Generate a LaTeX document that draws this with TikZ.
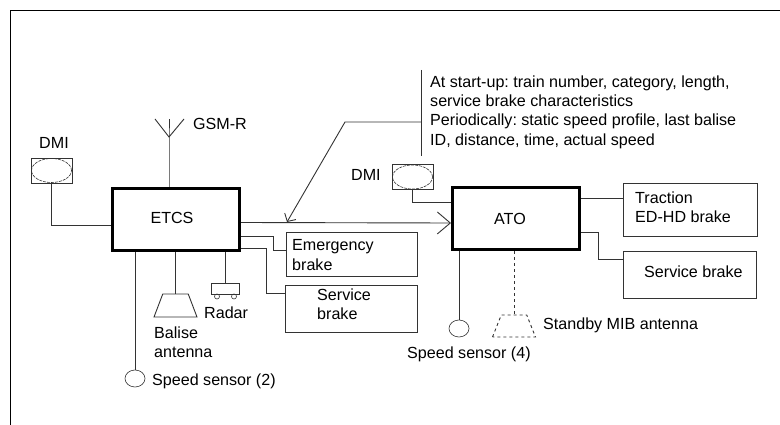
\documentclass[tikz,border=0pt]{standalone}
\usepackage{fontspec}
\setmainfont{Liberation Sans}
\usetikzlibrary{arrows.meta, shapes.geometric}

\tikzset{
	line/.style={draw=black!80, line width=0.9pt},
	unit/.style={draw=black, line width=3pt, minimum width=127pt, minimum height=62pt, inner sep=0pt},
	brake/.style={line, inner sep=0pt},
	label/.style={inner sep=0pt, anchor=west, align=left},
	screen/.style={line, minimum width=41pt, minimum height=25pt, inner sep=0pt},
	lens/.style={draw=black!80, dashed, dash pattern=on 3pt off 1pt, line width=0.6pt, shape=ellipse, minimum width=40pt, minimum height=24pt, inner sep=0pt},
	sensor/.style={line, line width=0.6pt, shape=ellipse, minimum width=20pt, minimum height=17pt, inner sep=0pt},
	antenna/.style={line, shape=trapezium, trapezium stretches=true, trapezium left angle=72, trapezium right angle=72, minimum width=43pt, minimum height=23pt, inner sep=0pt},
	wheel/.style={line, line width=0.6pt, shape=circle, minimum size=5pt, inner sep=0pt},
}

\begin{document}
\frenchspacing
\begin{tikzpicture}[x=1pt, y=-1pt, font=\fontsize{16.1}{19.3}\selectfont]
	\useasboundingbox (0, 0) rectangle (780, 425);
	\draw[line width=1pt] (10, 425) -- (10, 11) -- (780, 11);

	% main units
	\node[unit] (etcs) at (176, 219.5) {\hspace{-8pt}\raisebox{3pt}{ETCS}};
	\node[unit] (ato) at (516, 218.5) {\hspace{-12pt}ATO};

	% left side
	\node[screen] (dmileft) at (51.5, 170.5) {};
	\node[lens] (lensleft) at (dmileft.center) {};
	\node[label, anchor=center] (dmilefttext) at (54, 143) {DMI};
	\draw[line] (dmileft.south) |- ([yshift=-5.5pt]etcs.west);

	% GSM-R aerial
	\coordinate (aerial) at (169, 137);
	\coordinate (aerialtop) at (169, 119);
	\coordinate (aerialleft) at (155, 119);
	\coordinate (aerialright) at (184, 119);
	\node[label] (gsmtext) at (193, 124) {GSM-R};
	\draw[line] (etcs.north -| aerial) -- (aerial) -- (aerialtop);
	\draw[line] (aerialleft) -- (aerial) -- (aerialright);

	% under ETCS
	\node[sensor] (sensorleft) at (135, 378.5) {};
	\node[label] (sensorlefttext) at (152, 381) {Speed sensor (2)};
	\draw[line] (etcs.south -| sensorleft.north) -- (sensorleft.north);
	\node[antenna] (balise) at (175.5, 305.5) {\phantom{x}};
	\node[label] (balisetext) at (154, 342.5) {Balise\\antenna};
	\draw[line] (etcs.south -| balise.north) -- (balise.north);
	\node[line, minimum width=28pt, minimum height=11pt, inner sep=0pt] (radar) at (225, 288.5) {};
	\node[wheel] (wheelleft) at (217, 296.5) {};
	\node[wheel] (wheelright) at (234, 296.5) {};
	\node[label] (radartext) at (204, 313) {Radar};
	\draw[line] (etcs.south -| radar.north) -- (radar.north);

	% ETCS brakes
	\node[brake, minimum width=131pt, minimum height=44pt] (emergency) at (351.5, 254) {};
	\node[label] (emergencytext) at (292, 255) {Emergency\\brake};
	\node[brake, minimum width=132pt, minimum height=47pt] (serviceleft) at (351, 308.5) {};
	\node[label] (servicelefttext) at (317, 304.5) {Service\\brake};
	\draw[line] ([yshift=-16.5pt]etcs.east) -| (273, 250) -- ([yshift=4pt]emergency.west);
	\draw[line] ([yshift=-28.5pt]etcs.east) -| (266, 293) -- ([yshift=15.5pt]serviceleft.west);

	% data link
	\coordinate (bartop) at (421, 70);
	\coordinate (barbottom) at (421, 156);
	\coordinate (barmid) at (421, 122);
	\coordinate (bend) at (345, 122);
	\coordinate (datatip) at (287, 222);
	\draw[line] (bartop) -- (barbottom);
	\node[label] (datatext) at (430, 112) {At start-up: train number, category, length,\\service brake characteristics\\Periodically: static speed profile, last balise\\ID, distance, time, actual speed};
	\draw[line, -{Straight Barb[length=6pt, width=13pt]}] (barmid) -- (bend) -- (datatip);
	\draw[line, -{Straight Barb[length=13pt, width=22pt]}] ([yshift=-3pt]etcs.east) -- ([yshift=-4.5pt]ato.west);

	% right side
	\node[screen] (dmiright) at (412.5, 177) {};
	\node[lens] (lensright) at (dmiright.center) {};
	\node[label] (dmirighttext) at (351, 175) {DMI};
	\draw[line] (dmiright.south) |- ([yshift=16.5pt]ato.west);
	\node[brake, minimum width=134pt, minimum height=53pt] (traction) at (690, 209.5) {};
	\node[label] (tractiontext) at (635, 207.5) {Traction\\ED-HD brake};
	\node[brake, minimum width=133pt, minimum height=47pt] (serviceright) at (689.5, 274.5) {};
	\node[label] (servicerighttext) at (644, 272) {Service brake};
	\draw[line] ([yshift=20.5pt]ato.east) -- ([yshift=20.5pt]ato.east -| traction.west);
	\draw[line] ([yshift=-13.5pt]ato.east) -| (598, 259) -- ([yshift=15.5pt]serviceright.west);

	% under ATO
	\node[sensor] (sensorright) at (459, 328.5) {};
	\node[label] (sensorrighttext) at (407, 354) {Speed sensor (4)};
	\draw[line] (ato.south -| sensorright.north) -- (sensorright.north);
	\node[antenna, dashed, minimum height=22pt] (standby) at (514, 326) {\phantom{x}};
	\node[label] (standbytext) at (543, 325) {Standby MIB antenna};
	\draw[line, dashed] (ato.south -| standby.north) -- (standby.north);
\end{tikzpicture}
\end{document}
